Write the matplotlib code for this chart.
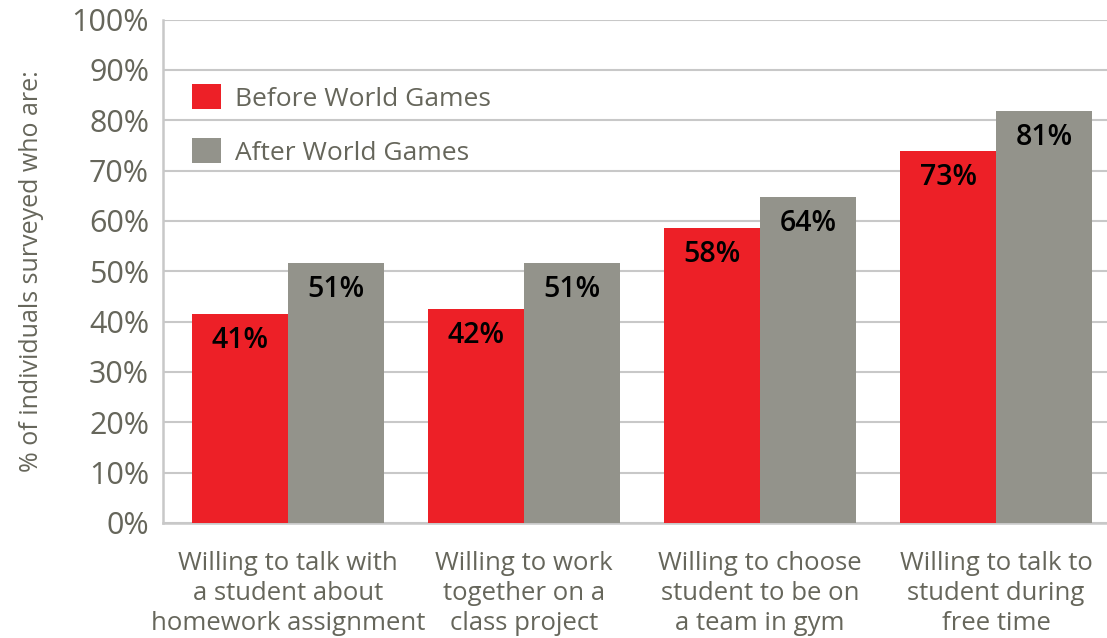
import numpy as np
import matplotlib.pyplot as plt
from matplotlib.ticker import FuncFormatter

CATEGORIES = ['Willing to talk with\na student about\nhomework assignment',
              'Willing to work\ntogether on a\nclass project',
              'Willing to choose\nstudent to be on\na team in gym',
              'Willing to talk to\nstudent during\nfree time']
BEFORE = [41.5, 42.5, 58.6, 73.8]
AFTER = [51.7, 51.7, 64.8, 81.9]
BEFORE_LABELS = ['41%', '42%', '58%', '73%']
AFTER_LABELS = ['51%', '51%', '64%', '81%']
SERIES = ['Before World Games', 'After World Games']

RED = '#ED2027'
GRAY = '#93938B'
TEXT = '#66665B'
LINE = '#C8C8C8'

plt.rcParams['font.family'] = ['Open Sans', 'DejaVu Sans']

fig = plt.figure(figsize=(11.07, 6.38), dpi=100)
ax = fig.add_axes([0.1472, 0.1803, 0.8528, 0.789])

x = np.arange(len(CATEGORIES))
w = 0.407
b1 = ax.bar(x - w / 2, BEFORE, w, color=RED, label=SERIES[0], zorder=3)
b2 = ax.bar(x + w / 2, AFTER, w, color=GRAY, label=SERIES[1], zorder=3)

for bars, labels in ((b1, BEFORE_LABELS), (b2, AFTER_LABELS)):
    for bar, lab in zip(bars, labels):
        ax.annotate(lab, (bar.get_x() + bar.get_width() / 2, bar.get_height()),
                    xytext=(0, -19), textcoords='offset points',
                    ha='center', va='center', fontsize=20.5,
                    fontweight='semibold', color='black', zorder=4)

ax.set_xlim(-0.53, 3.47)
ax.set_ylim(0, 100)
ax.set_yticks(np.arange(0, 101, 10))
ax.yaxis.set_major_formatter(FuncFormatter(lambda v, p: f'{v:.0f}%'))
ax.set_xticks(x)
ax.set_xticklabels(CATEGORIES, fontsize=18.5, color=TEXT, linespacing=1.26)
ax.tick_params(axis='y', labelsize=22, colors=TEXT, length=0, pad=10)
ax.tick_params(axis='x', length=0, pad=20)

ax.grid(axis='y', color=LINE, linewidth=1.5, zorder=0)
for s in ('top', 'right'):
    ax.spines[s].set_visible(False)
for s in ('left', 'bottom'):
    ax.spines[s].set_color(LINE)
    ax.spines[s].set_linewidth(1.8)

ax.set_ylabel('% of individuals surveyed who are:', fontsize=18, color=TEXT, labelpad=20)

ax.legend(loc='upper left', bbox_to_anchor=(0.0307, 0.872), frameon=False,
          fontsize=19, handlelength=1.1, handleheight=1.1,
          labelspacing=1.0, handletextpad=0.55, borderpad=0, borderaxespad=0,
          labelcolor=TEXT)

plt.savefig('out.png', dpi=100)
